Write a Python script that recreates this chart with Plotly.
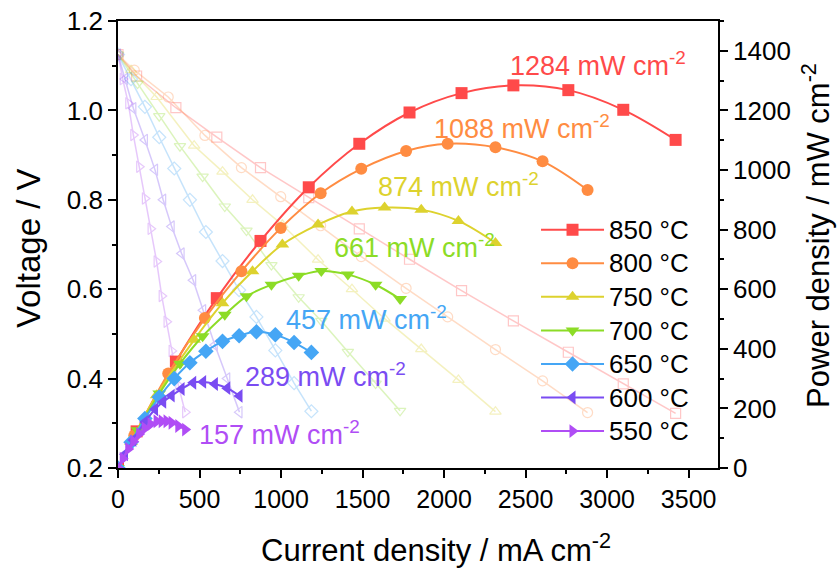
import plotly.graph_objects as go

temps = ["850 °C", "800 °C", "750 °C", "700 °C", "650 °C", "600 °C", "550 °C"]
colors = ["#FF4A4A", "#FF8C42", "#DDD22E", "#8CDC26", "#45A6F5", "#7A4CF2", "#B04DF5"]
sym = ["square", "circle", "triangle-up", "triangle-down", "diamond", "triangle-left", "triangle-right"]

# current density (mA cm-2)
I850 = [0, 114, 355, 606, 874, 1170, 1480, 1788, 2107, 2425, 2762, 3099, 3420]
I800 = [0, 100, 308, 533, 757, 998, 1243, 1492, 1767, 2022, 2315, 2604, 2880]
I750 = [0, 80, 237, 467, 641, 825, 1008, 1227, 1435, 1635, 1860, 2088, 2315]
I700 = [0, 120, 253, 380, 519, 655, 788, 941, 1108, 1247, 1410, 1580, 1730]
I650 = [0, 80, 165, 253, 345, 441, 539, 641, 743, 849, 965, 1080, 1186]
I600 = [0, 43, 94, 165, 227, 277, 329, 390, 461, 522, 594, 670, 745]
I550 = [0, 29, 63, 94, 130, 165, 200, 237, 268, 298, 329, 370, 412]

# voltage (V)
V850 = [1.125, 1.077, 1.006, 0.940, 0.872, 0.805, 0.735, 0.667, 0.597, 0.529, 0.459, 0.388, 0.322]
V800 = [1.125, 1.090, 1.030, 0.944, 0.872, 0.807, 0.742, 0.673, 0.602, 0.538, 0.465, 0.395, 0.324]
V750 = [1.125, 1.090, 1.030, 0.921, 0.863, 0.800, 0.744, 0.666, 0.600, 0.534, 0.466, 0.397, 0.326]
V700 = [1.125, 1.060, 0.987, 0.920, 0.852, 0.785, 0.731, 0.654, 0.582, 0.529, 0.460, 0.389, 0.328]
V650 = [1.125, 1.070, 1.008, 0.940, 0.870, 0.800, 0.728, 0.663, 0.598, 0.538, 0.463, 0.390, 0.327]
V600 = [1.125, 1.070, 1.005, 0.934, 0.867, 0.800, 0.740, 0.680, 0.620, 0.553, 0.475, 0.400, 0.325]
V550 = [1.125, 1.070, 1.016, 0.945, 0.874, 0.803, 0.735, 0.662, 0.585, 0.527, 0.462, 0.385, 0.325]

# power density (mW cm-2)
P850 = [0, 123, 357, 570, 762, 942, 1088, 1193, 1258, 1284, 1268, 1202, 1101]
P800 = [0, 109, 317, 503, 660, 805, 922, 1004, 1064, 1088, 1076, 1029, 933]
P750 = [0, 87, 244, 430, 553, 660, 750, 817, 861, 874, 867, 829, 755]
P700 = [0, 127, 250, 350, 442, 514, 576, 615, 645, 661, 649, 615, 567]
P650 = [0, 86, 166, 238, 300, 353, 392, 425, 444, 457, 447, 421, 388]
P600 = [0, 46, 94, 154, 197, 222, 243, 265, 286, 289, 282, 268, 242]
P550 = [0, 31, 64, 89, 114, 133, 147, 157, 157, 157, 152, 141, 129]

peak_labels = ["1284", "1088", "874", "661", "457", "289", "157"]
label_x = [2945, 2480, 2088, 1819, 1525, 1274, 992]
label_y = [1356, 1144, 950, 745, 503, 312, 117]

Is = [I850, I800, I750, I700, I650, I600, I550]
Vs = [V850, V800, V750, V700, V650, V600, V550]
Ps = [P850, P800, P750, P700, P650, P600, P550]

FONT = "Liberation Sans, Arial, sans-serif"

fig = go.Figure()
for k in range(7):
    fig.add_trace(go.Scatter(
        x=Is[k], y=Vs[k], mode="lines+markers", yaxis="y", showlegend=False,
        opacity=0.3, line=dict(color=colors[k], width=1.5),
        marker=dict(symbol=sym[k] + "-open", size=10, color=colors[k], line=dict(width=1.2))))
for k in range(7):
    fig.add_trace(go.Scatter(
        x=Is[k], y=Ps[k], mode="lines+markers", yaxis="y2",
        name="<span style='font-size:26px'>" + temps[k] + "</span>",
        line=dict(color=colors[k], width=2, shape="spline"),
        marker=dict(symbol=sym[k], size=12, color=colors[k])))
    fig.add_annotation(x=label_x[k], y=label_y[k], xref="x", yref="y2",
                       text=peak_labels[k] + " mW cm<sup>-2</sup>", showarrow=False,
                       font=dict(size=27, color=colors[k], family=FONT))

# axis titles
fig.add_annotation(x=-0.15, y=0.492, xref="paper", yref="paper", textangle=-90,
                   text="Voltage / V", showarrow=False, xanchor="center", yanchor="middle",
                   font=dict(size=33, family=FONT, color="black"))
fig.add_annotation(x=1.163, y=0.521, xref="paper", yref="paper", textangle=-90,
                   text="Power density / mW cm<sup>-2</sup>", showarrow=False,
                   xanchor="center", yanchor="middle",
                   font=dict(size=31, family=FONT, color="black"))
fig.add_annotation(x=0.53, y=-0.179, xref="paper", yref="paper",
                   text="Current density / mA cm<sup>-2</sup>", showarrow=False,
                   xanchor="center", yanchor="middle",
                   font=dict(size=31, family=FONT, color="black"))

axis_common = dict(showline=True, linecolor="black", linewidth=1.8, ticks="outside",
                   ticklen=8, tickwidth=1.5, tickcolor="black", showgrid=False,
                   zeroline=False, automargin=False, ticklabeloverflow="allow")
minor_common = dict(ticks="outside", ticklen=4, tickcolor="black", tickwidth=1.5)
fig.update_layout(
    width=837, height=571, paper_bgcolor="white", plot_bgcolor="white",
    margin=dict(l=118, r=119, t=21, b=103),
    font=dict(family=FONT, color="black", size=26),
    xaxis=dict(range=[0, 3680], dtick=500, tick0=0, mirror=True,
               minor=dict(dtick=250, **minor_common),
               tickfont=dict(size=25), **axis_common),
    yaxis=dict(range=[0.2, 1.2], dtick=0.2, tick0=0.2, tickformat=".1f",
               minor=dict(dtick=0.1, **minor_common),
               tickfont=dict(size=26), **axis_common),
    yaxis2=dict(range=[0, 1500], dtick=200, tick0=0, overlaying="y", side="right",
                minor=dict(dtick=100, **minor_common),
                tickfont=dict(size=26), **axis_common),
    legend=dict(x=0.6967, y=0.5817, xanchor="left", yanchor="top", bgcolor="rgba(0,0,0,0)",
                font=dict(size=23.5), itemwidth=63),
)
fig.write_html("out.html", config={"displayModeBar": False},
               post_script="document.body.style.margin='0';document.body.style.overflow='hidden';")
